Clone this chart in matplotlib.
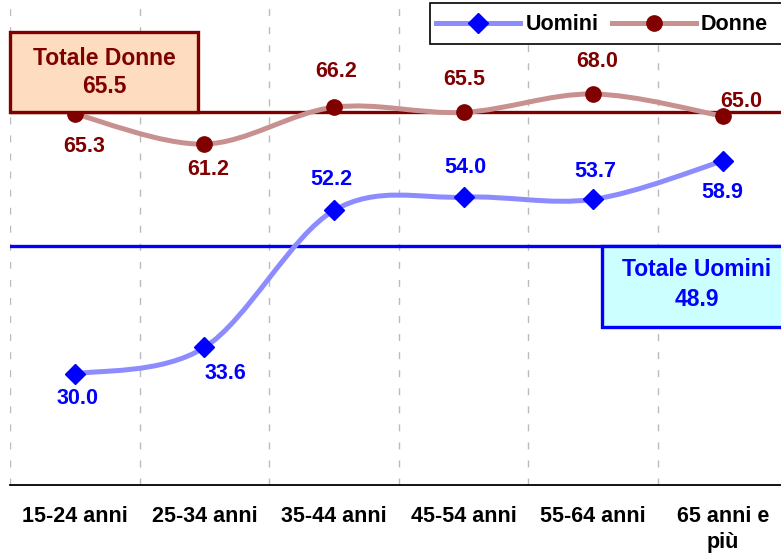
import matplotlib
matplotlib.use("Agg")
import matplotlib.pyplot as plt
import numpy as np
from matplotlib.path import Path
from matplotlib.patches import PathPatch, Rectangle
from matplotlib.lines import Line2D

plt.rcParams["font.family"] = ["Liberation Sans", "DejaVu Sans"]

# --- Dati ---------------------------------------------------------------
categorie = ["15-24 anni", "25-34 anni", "35-44 anni", "45-54 anni",
             "55-64 anni", "65 anni e\npiù"]
uomini = [30.0, 33.6, 52.2, 54.0, 53.7, 58.9]
donne = [65.3, 61.2, 66.2, 65.5, 68.0, 65.0]
totale_uomini = 48.9
totale_donne = 65.5
livello_linea_uomini = 47.4  # posizione disegnata della linea nel grafico

# offset etichette (pixel)
off_uomini = [(3, -24), (21, -26), (-3, 31), (2, 30), (2, 28), (0, -31)]
off_donne = [(9, -33), (4, -25), (2, 36), (1, 33), (4, 32), (19, 15)]

BLU = "#0000FF"
ROSSO = "#800000"
FS = 15.5
FS_BOX = 16.5


def smooth_path(xs, ys):
    """Curva Bezier stile Excel (Catmull-Rom) attraverso i punti."""
    p = np.column_stack([xs, ys]).astype(float)
    n = len(p)
    verts = [p[0]]
    codes = [Path.MOVETO]
    for i in range(n - 1):
        p0 = p[i - 1] if i > 0 else p[i]
        p1, p2 = p[i], p[i + 1]
        p3 = p[i + 2] if i + 2 < n else p[i + 1]
        c1 = p1 + (p2 - p0) / 6.0
        c2 = p2 - (p3 - p1) / 6.0
        verts += [c1, c2, p2]
        codes += [Path.CURVE4] * 3
    return Path(verts, codes)


fig = plt.figure(figsize=(7.81, 5.60), dpi=100, facecolor="white")
ax = fig.add_axes([10 / 781, 75 / 560, 771 / 781, 485 / 560])
x = np.arange(len(categorie))
ax.set_xlim(-0.5, 5.45)
ax.set_ylim(14.94, 80.75)

for s in ["top", "right", "left"]:
    ax.spines[s].set_visible(False)
ax.spines["bottom"].set_linewidth(1.3)
ax.set_yticks([])
ax.set_xticks(x)
ax.set_xticklabels(categorie, fontsize=FS, fontweight="bold", linespacing=1.3)
ax.tick_params(axis="x", length=0, pad=15)

# griglia verticale tratteggiata tra le categorie
for gx in np.arange(-0.5, 5.0, 1.0):
    ax.axvline(gx, color="#BBBBBB", lw=1.0, ls=(0, (5, 8)), zorder=0)

# linee dei totali
ax.axhline(totale_donne, color=ROSSO, lw=2.4, zorder=2)
ax.axhline(livello_linea_uomini, color=BLU, lw=2.4, zorder=2)

# serie smussate
ax.add_patch(PathPatch(smooth_path(x, uomini), fill=False, edgecolor="#8C8CFF",
                       lw=3.6, zorder=3, capstyle="round"))
ax.add_patch(PathPatch(smooth_path(x, donne), fill=False, edgecolor="#C99090",
                       lw=3.6, zorder=3, capstyle="round"))
ax.plot(x, uomini, ls="none", marker="D", ms=10.5, color=BLU, zorder=4)
ax.plot(x, donne, ls="none", marker="o", ms=11, color=ROSSO, zorder=4)

for xi, v, (dx, dy) in zip(x, uomini, off_uomini):
    ax.annotate(f"{v:.1f}", (xi, v), xytext=(dx, dy), textcoords="offset pixels",
                ha="center", va="center", fontsize=FS, fontweight="bold", color=BLU)
for xi, v, (dx, dy) in zip(x, donne, off_donne):
    ax.annotate(f"{v:.1f}", (xi, v), xytext=(dx, dy), textcoords="offset pixels",
                ha="center", va="center", fontsize=FS, fontweight="bold", color=ROSSO)

# riquadri dei totali
ax.add_patch(Rectangle((-0.5, totale_donne), 1.45, 10.9, facecolor="#FDDCC0",
                       edgecolor=ROSSO, lw=2.4, zorder=5, clip_on=False))
ax.text(0.225, 72.8, "Totale Donne", ha="center", va="center", fontsize=FS_BOX,
        fontweight="bold", color=ROSSO, zorder=6)
ax.text(0.225, 69.0, f"{totale_donne:.1f}", ha="center", va="center",
        fontsize=FS_BOX, fontweight="bold", color=ROSSO, zorder=6)

ax.add_patch(Rectangle((4.07, 36.4), 1.6, livello_linea_uomini - 36.4,
                       facecolor="#CCFFFF", edgecolor=BLU, lw=2.4, zorder=5))
ax.text(4.80, 44.2, "Totale Uomini", ha="center", va="center", fontsize=FS_BOX,
        fontweight="bold", color=BLU, zorder=6)
ax.text(4.80, 40.1, f"{totale_uomini:.1f}", ha="center", va="center",
        fontsize=FS_BOX, fontweight="bold", color=BLU, zorder=6)

# legenda (cornice disegnata a parte, continua oltre il bordo destro)
fig.patches.append(Rectangle((430 / 781, 1 - 44 / 560), 380 / 781, 41 / 560,
                             transform=fig.transFigure, facecolor="white",
                             edgecolor="black", lw=1.2, zorder=0))
handles = [
    Line2D([], [], color="#8C8CFF", lw=3.6, marker="D", ms=10.5,
           markerfacecolor=BLU, markeredgecolor=BLU),
    Line2D([], [], color="#C99090", lw=3.6, marker="o", ms=11,
           markerfacecolor=ROSSO, markeredgecolor=ROSSO),
]
leg = fig.legend(handles, ["Uomini", "Donne"], loc="upper left",
                 bbox_to_anchor=(430 / 781, 1 - 8 / 560), ncol=2,
                 prop={"size": FS, "weight": "bold"}, frameon=False,
                 handlelength=3.9, handletextpad=0.25, columnspacing=0.6,
                 borderpad=0.3, borderaxespad=0)

fig.savefig("out.png", dpi=100, facecolor="white")
